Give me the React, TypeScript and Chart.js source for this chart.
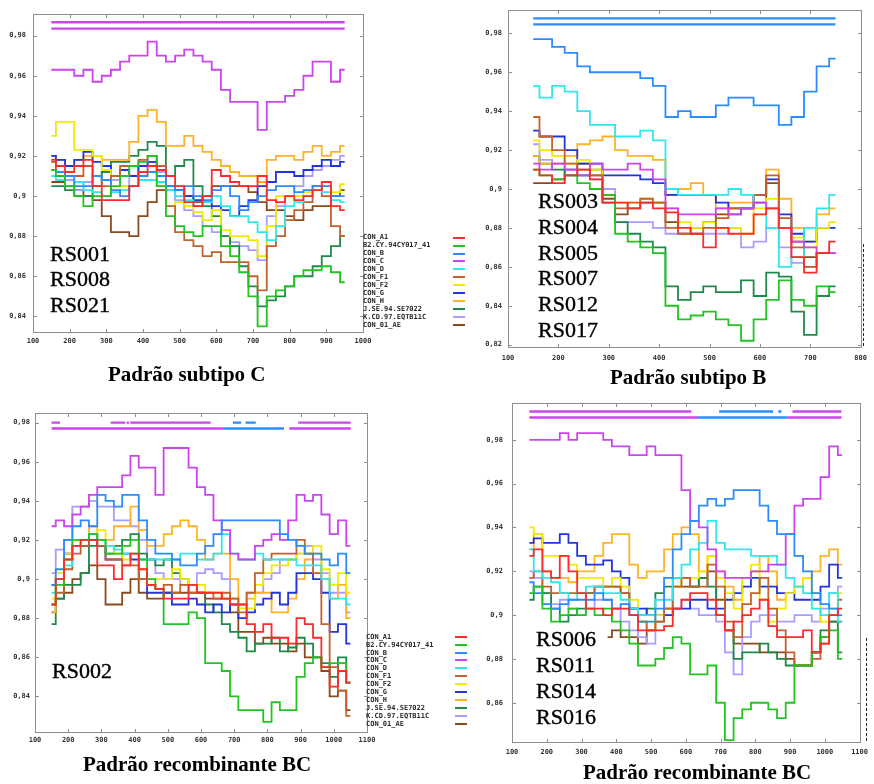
import React, { useEffect, useRef } from 'react';
import { Chart, registerables } from 'chart.js';
Chart.register(...registerables);

// ---------- series metadata ----------
const SERIES_NAMES = ['CON_A1', 'B2.CY.94CY017_41', 'CON_B', 'CON_C', 'CON_D', 'CON_F1', 'CON_F2', 'CON_G', 'CON_H', 'J.SE.94.SE7022', 'K.CD.97.EQTB11C', 'CON_01_AE'];
const SERIES_COLORS = ['#ff2a2a', '#22c422', '#2a8cff', '#cc44ee', '#2ee8ee', '#c4622c', '#f2ea00', '#2234dd', '#ffb224', '#1f8a48', '#ab9cff', '#8b4a1e'];
const MAGENTA = '#cc44ee';
const BLUE = '#2a8cff';

// ---------- x positions ----------
const X1 = [150, 175, 200, 225, 250, 275, 300, 325, 350, 375, 400, 425, 450, 475, 500, 525, 550, 575, 600, 625, 650, 675, 700, 725, 750, 775, 800, 825, 850, 875, 900, 925, 950];
const X2 = [150, 175, 200, 225, 250, 275, 300, 325, 350, 375, 400, 425, 450, 475, 500, 525, 550, 575, 600, 625, 650, 675, 700, 725, 750];
const X3 = [150, 175, 200, 225, 250, 275, 300, 325, 350, 375, 400, 425, 450, 475, 500, 525, 550, 575, 600, 625, 650, 675, 700, 725, 750, 775, 800, 825, 850, 875, 900, 925, 950, 975, 1000, 1025, 1050];
const X4 = X3;

// ---------- tick values ----------
const XT1 = [100, 200, 300, 400, 500, 600, 700, 800, 900, 1000];
const XT2 = [100, 200, 300, 400, 500, 600, 700, 800];
const XT3 = [100, 200, 300, 400, 500, 600, 700, 800, 900, 1000, 1100];
const XT4 = XT3;
const YT1 = [0.84, 0.86, 0.88, 0.9, 0.92, 0.94, 0.96, 0.98];
const YT2 = [0.82, 0.84, 0.86, 0.88, 0.9, 0.92, 0.94, 0.96, 0.98];
const YT3 = [0.84, 0.86, 0.88, 0.9, 0.92, 0.94, 0.96, 0.98];
const YT4 = [0.86, 0.88, 0.9, 0.92, 0.94, 0.96, 0.98];

// ---------- Panel 1: Padrão subtipo C ----------
const p1_A1 = [.918, .915, .912, .915, .918, .905, .898, .898, .898, .905, .912, .915, .913, .910, .905, .897, .895, .900, .913, .910, .907, .905, .905, .910, .898, .897, .900, .898, .900, .903, .907, .895, .893];
const p1_B2CY = [.913, .910, .905, .900, .895, .900, .900, .905, .910, .915, .917, .920, .905, .890, .885, .882, .880, .885, .885, .875, .870, .862, .850, .835, .850, .853, .855, .860, .863, .863, .865, .862, .857];
const p1_B = [.913, .912, .910, .905, .905, .910, .908, .903, .900, .905, .910, .912, .910, .905, .903, .905, .900, .898, .903, .905, .900, .893, .897, .900, .903, .905, .905, .902, .903, .905, .905, .900, .900];
const p1_C = [.963, .963, .963, .960, .963, .957, .960, .963, .967, .970, .970, .977, .970, .967, .970, .973, .970, .967, .963, .953, .947, .947, .947, .933, .947, .947, .950, .953, .960, .967, .967, .957, .963];
const p1_D = [.910, .908, .905, .907, .903, .902, .900, .902, .903, .905, .908, .908, .907, .903, .900, .898, .895, .897, .900, .895, .890, .890, .887, .882, .878, .885, .895, .897, .900, .903, .902, .898, .897];
const p1_F1 = [.917, .912, .910, .910, .915, .910, .905, .910, .915, .915, .918, .920, .915, .895, .882, .878, .875, .870, .872, .867, .867, .867, .860, .853, .875, .880, .888, .893, .897, .905, .900, .885, .880];
const p1_F2 = [.930, .937, .937, .923, .923, .920, .913, .910, .905, .905, .910, .912, .905, .895, .897, .895, .892, .888, .893, .883, .880, .880, .878, .870, .885, .900, .900, .900, .902, .903, .905, .902, .906];
const p1_G = [.920, .918, .915, .918, .922, .917, .915, .910, .913, .910, .915, .917, .915, .905, .903, .900, .898, .897, .895, .893, .890, .895, .898, .905, .907, .912, .912, .910, .913, .915, .918, .915, .917];
const p1_H = [.920, .918, .915, .918, .920, .920, .918, .918, .918, .927, .940, .943, .937, .925, .925, .930, .925, .922, .918, .915, .912, .910, .910, .907, .918, .920, .920, .918, .922, .925, .920, .922, .925];
const p1_J = [.905, .905, .903, .900, .900, .905, .912, .917, .917, .920, .923, .927, .925, .910, .915, .918, .905, .895, .890, .880, .875, .865, .855, .845, .848, .850, .855, .860, .860, .865, .870, .875, .880];
const p1_K = [.917, .912, .908, .903, .907, .910, .912, .908, .905, .910, .915, .917, .912, .903, .898, .893, .890, .885, .882, .880, .877, .875, .873, .868, .890, .895, .900, .905, .910, .913, .915, .918, .920];
const p1_AE = [.907, .907, .905, .903, .900, .898, .890, .882, .882, .880, .890, .897, .903, .903, .903, .900, .897, .900, .905, .905, .905, .905, .902, .897, .893, .893, .890, .888, .893, .895, .895, .900, .903];
const p1_barLevels = [0.9867, 0.9835];

// ---------- Panel 2: Padrão subtipo B ----------
const p2_A1 = [.910, .907, .903, .907, .910, .905, .893, .893, .890, .893, .890, .888, .880, .877, .870, .880, .877, .877, .887, .890, .880, .865, .857, .867, .873];
const p2_B2CY = [.910, .907, .905, .907, .903, .900, .897, .877, .873, .870, .867, .840, .833, .835, .837, .833, .830, .822, .833, .843, .853, .843, .840, .850, .847];
const p2_B = [.977, .977, .973, .970, .963, .960, .960, .960, .960, .957, .953, .937, .940, .937, .937, .943, .947, .947, .943, .943, .933, .937, .950, .963, .967];
const p2_C = [.913, .910, .913, .910, .907, .913, .910, .910, .913, .910, .905, .890, .887, .887, .887, .890, .887, .890, .893, .890, .880, .873, .870, .867, .867];
const p2_D = [.953, .947, .953, .950, .940, .933, .933, .927, .927, .930, .925, .900, .897, .897, .897, .897, .900, .897, .893, .880, .860, .865, .880, .890, .897];
const p2_F1 = [.937, .927, .920, .913, .910, .907, .897, .890, .893, .895, .893, .880, .877, .877, .880, .885, .890, .890, .897, .907, .885, .870, .860, .867, .867];
const p2_F2 = [.925, .920, .917, .913, .915, .910, .897, .893, .893, .895, .893, .890, .883, .880, .883, .880, .880, .877, .890, .895, .880, .875, .870, .880, .883];
const p2_G = [.930, .927, .927, .920, .913, .913, .907, .907, .907, .905, .903, .897, .897, .897, .897, .893, .890, .890, .897, .905, .887, .877, .873, .880, .880];
const p2_H = [.917, .913, .913, .917, .923, .925, .927, .920, .917, .917, .915, .897, .900, .903, .897, .890, .893, .893, .897, .910, .895, .880, .873, .887, .890];
const p2_J = [.917, .913, .910, .907, .907, .910, .893, .883, .877, .873, .870, .850, .843, .847, .850, .847, .847, .853, .845, .857, .855, .837, .825, .845, .850];
const p2_K = [.923, .915, .913, .910, .907, .905, .900, .883, .883, .883, .880, .877, .877, .877, .877, .877, .880, .870, .873, .880, .870, .862, .860, .867, .867];
const p2_AE = [.903, .903, .905, .910, .913, .907, .895, .887, .890, .893, .893, .883, .877, .880, .883, .887, .887, .890, .893, .903, .880, .873, .865, .867, .867];
const p2_barLevels = [0.9877, 0.9846];

// ---------- Panel 3: Padrão recombinante BC (RS002) ----------
const p3_A1 = [.887, .900, .910, .917, .920, .920, .907, .907, .900, .907, .913, .905, .897, .895, .890, .890, .890, .897, .893, .893, .893, .890, .887, .887, .877, .873, .877, .870, .870, .867, .880, .877, .870, .855, .845, .853, .847];
const p3_B2CY = [.887, .897, .910, .920, .920, .923, .920, .913, .913, .917, .920, .910, .900, .895, .877, .877, .877, .883, .880, .857, .857, .853, .840, .833, .833, .833, .827, .837, .833, .833, .850, .857, .860, .855, .857, .857, .847];
const p3_B = [.897, .905, .920, .927, .930, .927, .943, .940, .937, .943, .943, .930, .920, .913, .913, .910, .907, .907, .913, .917, .923, .930, .930, .930, .930, .930, .930, .930, .923, .920, .917, .913, .913, .910, .907, .913, .903];
const p3_C = [.927, .930, .927, .933, .937, .943, .947, .947, .947, .953, .963, .957, .957, .943, .967, .967, .967, .957, .947, .943, .930, .925, .913, .910, .910, .917, .920, .923, .920, .930, .943, .940, .943, .933, .923, .930, .917];
const p3_D = [.893, .900, .907, .917, .920, .923, .920, .917, .915, .913, .913, .910, .910, .910, .910, .910, .913, .913, .910, .910, .913, .923, .913, .910, .910, .913, .910, .910, .910, .910, .907, .907, .907, .900, .890, .890, .887];
const p3_F1 = [.887, .893, .905, .913, .917, .923, .917, .910, .910, .907, .907, .900, .897, .895, .897, .893, .897, .893, .893, .893, .890, .893, .890, .883, .893, .903, .910, .913, .913, .913, .920, .913, .903, .877, .855, .843, .830];
const p3_F2 = [.890, .903, .913, .920, .920, .923, .925, .917, .913, .910, .913, .905, .900, .900, .900, .905, .900, .897, .897, .893, .893, .890, .890, .885, .885, .897, .903, .907, .907, .910, .913, .913, .917, .905, .897, .903, .893];
const p3_G = [.897, .900, .913, .917, .917, .920, .917, .910, .910, .913, .910, .900, .893, .893, .893, .887, .887, .890, .887, .883, .887, .883, .887, .880, .883, .887, .890, .893, .887, .893, .903, .903, .900, .893, .873, .877, .867];
const p3_H = [.883, .900, .913, .920, .917, .927, .920, .920, .927, .927, .937, .925, .917, .917, .923, .927, .930, .927, .920, .910, .913, .913, .900, .887, .890, .893, .893, .883, .883, .890, .900, .910, .913, .900, .890, .897, .880];
const p3_J = [.877, .890, .897, .897, .903, .917, .917, .913, .917, .920, .923, .913, .910, .907, .910, .903, .900, .897, .893, .887, .883, .877, .873, .870, .863, .867, .867, .870, .863, .865, .870, .867, .860, .857, .850, .860, .847];
const p3_K = [.903, .915, .920, .937, .937, .940, .937, .937, .930, .930, .927, .920, .910, .903, .900, .900, .897, .897, .903, .905, .903, .900, .890, .887, .893, .893, .900, .903, .910, .910, .913, .917, .910, .903, .893, .893, .883];
const p3_AE = [.883, .890, .893, .900, .903, .907, .900, .887, .887, .893, .900, .893, .890, .890, .893, .893, .893, .893, .893, .890, .890, .890, .883, .873, .873, .867, .870, .867, .867, .863, .867, .860, .860, .853, .840, .843, .833];
const p3_barLevels = [0.980, 0.977];
const p3_row1Magenta = [[150, 175], [328, 372], [376, 383], [387, 629], [893, 1051]];
const p3_row1Blue = [[696, 721], [734, 765]];
const p3_row2Magenta = [[150, 669], [866, 1051]];
const p3_row2Blue = [[669, 850]];

// ---------- Panel 4: Padrão recombinante BC (RS006...) ----------
const p4_A1 = [.927, .930, .920, .917, .927, .920, .910, .903, .903, .900, .903, .903, .900, .893, .893, .893, .895, .903, .907, .910, .910, .907, .900, .893, .897, .900, .903, .907, .895, .890, .890, .890, .893, .883, .887, .900, .903];
const p4_B2CY = [.910, .913, .903, .897, .900, .903, .900, .903, .900, .903, .897, .893, .887, .877, .877, .880, .885, .890, .887, .873, .873, .877, .860, .843, .853, .857, .860, .860, .857, .853, .860, .877, .877, .883, .890, .893, .880];
const p4_B = [.915, .910, .905, .903, .905, .907, .907, .907, .910, .907, .903, .905, .900, .897, .897, .903, .917, .930, .937, .943, .950, .953, .950, .953, .957, .957, .957, .950, .943, .937, .937, .927, .920, .910, .905, .903, .900];
const p4_C = [.980, .980, .980, .980, .983, .980, .983, .983, .983, .980, .977, .977, .973, .973, .977, .973, .973, .973, .957, .943, .940, .930, .920, .917, .917, .917, .920, .920, .923, .923, .937, .950, .953, .953, .963, .977, .973];
const p4_D = [.930, .920, .917, .915, .910, .907, .910, .913, .913, .910, .910, .907, .903, .900, .900, .907, .907, .917, .923, .930, .933, .943, .933, .930, .930, .930, .927, .927, .927, .923, .917, .913, .910, .903, .900, .910, .897];
const p4_F1 = [.917, .920, .913, .910, .910, .910, .910, .910, .913, .913, .913, .910, .903, .897, .893, .897, .903, .913, .917, .913, .913, .923, .913, .897, .890, .905, .910, .917, .903, .893, .883, .877, .877, .880, .887, .900, .907];
const p4_F2 = [.940, .937, .927, .927, .927, .923, .917, .917, .917, .913, .917, .913, .907, .897, .893, .900, .903, .913, .917, .917, .920, .927, .917, .910, .903, .917, .923, .907, .897, .903, .910, .913, .917, .910, .897, .903, .910];
const p4_G = [.933, .935, .933, .933, .937, .933, .927, .923, .923, .925, .920, .917, .903, .903, .900, .900, .900, .903, .903, .907, .907, .903, .903, .907, .910, .913, .917, .913, .913, .910, .910, .907, .907, .907, .913, .923, .917];
const p4_H = [.930, .937, .920, .917, .917, .915, .920, .920, .927, .933, .937, .937, .923, .917, .920, .920, .930, .937, .940, .937, .920, .927, .920, .913, .907, .917, .920, .927, .920, .907, .910, .913, .917, .920, .927, .930, .923];
const p4_J = [.907, .913, .910, .903, .897, .900, .903, .910, .913, .913, .913, .910, .903, .900, .903, .910, .913, .917, .917, .913, .917, .913, .900, .893, .880, .883, .883, .887, .883, .880, .877, .877, .877, .883, .893, .897, .883];
const p4_K = [.920, .917, .910, .905, .907, .903, .900, .903, .907, .907, .903, .897, .893, .890, .887, .900, .900, .903, .907, .903, .900, .900, .897, .883, .873, .890, .897, .900, .900, .897, .897, .900, .900, .897, .903, .910, .913];
const p4_AE = [null, null, null, null, null, null, null, null, null, .890, .893, .890, .890, .887, .893, .897, .903, .913, .913, .913, .917, .920, .907, .893, .887, .887, .887, .883, .883, .883, .880, .877, .877, .883, .890, .897, .897];
const p4_barLevels = [0.9929, 0.9902];
const p4_row1Magenta = [[150, 616], [907, 1048]];
const p4_row1Blue = [[696, 851], [866, 875]];
const p4_row2Magenta = [[150, 635], [893, 1048]];
const p4_row2Blue = [[635, 893]];

// ---------- helpers ----------
const fmt = (v: number) => String(Math.round(v * 100) / 100).replace('.', ',');

function barData(segs: number[][], y: number) {
  const out: any[] = [];
  segs.forEach(([a, b]) => {
    out.push({ x: a, y }, { x: b, y }, { x: b, y: null });
  });
  return out;
}

const framePlugin = {
  id: 'gnuframe',
  afterDatasetsDraw(chart: any) {
    const { ctx, chartArea: a, scales } = chart;
    ctx.save();
    ctx.strokeStyle = '#8e8e8e';
    ctx.lineWidth = 1;
    const L = Math.round(a.left) + 0.5, R = Math.round(a.right) + 0.5;
    const T = Math.round(a.top) + 0.5, B = Math.round(a.bottom) + 0.5;
    ctx.strokeRect(L, T, R - L, B - T);
    ctx.beginPath();
    const tl = 3.5;
    scales.x.ticks.forEach((t: any) => {
      const px = Math.round(scales.x.getPixelForValue(t.value)) + 0.5;
      ctx.moveTo(px, B); ctx.lineTo(px, B - tl);
      ctx.moveTo(px, T); ctx.lineTo(px, T + tl);
    });
    scales.y.ticks.forEach((t: any) => {
      const py = Math.round(scales.y.getPixelForValue(t.value)) + 0.5;
      ctx.moveTo(L, py); ctx.lineTo(L + tl, py);
      ctx.moveTo(R, py); ctx.lineTo(R - tl, py);
    });
    ctx.stroke();
    ctx.restore();
  },
};

type Bar = { segs: number[][]; y: number; color: string };
type PanelCfg = {
  left: number; top: number; w: number; h: number;
  pad: { left: number; top: number; right: number; bottom: number };
  yW: number; xH: number; xPad: number; yPad: number;
  xMin: number; xMax: number; yMin: number; yMax: number;
  xTicks: number[]; yTicks: number[];
  xs: number[]; series: (number | null)[][]; bars: Bar[];
};

const PANELS: PanelCfg[] = [
  {
    left: 0, top: 0, w: 440, h: 390,
    pad: { left: 0, top: 14, right: 77, bottom: 38 }, yW: 33, xH: 20, xPad: 5, yPad: 7,
    xMin: 100, xMax: 1000, yMin: 0.8322, yMax: 0.9908, xTicks: XT1, yTicks: YT1, xs: X1,
    series: [p1_A1, p1_B2CY, p1_B, p1_C, p1_D, p1_F1, p1_F2, p1_G, p1_H, p1_J, p1_K, p1_AE],
    bars: [
      { segs: [[150, 950]], y: p1_barLevels[0], color: MAGENTA },
      { segs: [[150, 950]], y: p1_barLevels[1], color: MAGENTA },
    ],
  },
  {
    left: 440, top: 0, w: 434, h: 390,
    pad: { left: 0, top: 8, right: 11, bottom: 23 }, yW: 68, xH: 20, xPad: 7, yPad: 6,
    xMin: 100, xMax: 800, yMin: 0.8188, yMax: 0.9919, xTicks: XT2, yTicks: YT2, xs: X2,
    series: [p2_A1, p2_B2CY, p2_B, p2_C, p2_D, p2_F1, p2_F2, p2_G, p2_H, p2_J, p2_K, p2_AE],
    bars: [
      { segs: [[150, 750]], y: p2_barLevels[0], color: BLUE },
      { segs: [[150, 750]], y: p2_barLevels[1], color: BLUE },
    ],
  },
  {
    left: 0, top: 390, w: 440, h: 394,
    pad: { left: 0, top: 23, right: 73, bottom: 32 }, yW: 35, xH: 20, xPad: 4, yPad: 5,
    xMin: 100, xMax: 1100, yMin: 0.8218, yMax: 0.9849, xTicks: XT3, yTicks: YT3, xs: X3,
    series: [p3_A1, p3_B2CY, p3_B, p3_C, p3_D, p3_F1, p3_F2, p3_G, p3_H, p3_J, p3_K, p3_AE],
    bars: [
      { segs: p3_row1Magenta, y: p3_barLevels[0], color: MAGENTA },
      { segs: p3_row1Blue, y: p3_barLevels[0], color: BLUE },
      { segs: p3_row2Magenta, y: p3_barLevels[1], color: MAGENTA },
      { segs: p3_row2Blue, y: p3_barLevels[1], color: BLUE },
    ],
  },
  {
    left: 440, top: 390, w: 434, h: 394,
    pad: { left: 0, top: 12, right: 8, bottom: 22 }, yW: 72, xH: 20, xPad: 6, yPad: 9,
    xMin: 100, xMax: 1100, yMin: 0.8421, yMax: 0.9967, xTicks: XT4, yTicks: YT4, xs: X4,
    series: [p4_A1, p4_B2CY, p4_B, p4_C, p4_D, p4_F1, p4_F2, p4_G, p4_H, p4_J, p4_K, p4_AE],
    bars: [
      { segs: p4_row1Magenta, y: p4_barLevels[0], color: MAGENTA },
      { segs: p4_row1Blue, y: p4_barLevels[0], color: BLUE },
      { segs: p4_row2Magenta, y: p4_barLevels[1], color: MAGENTA },
      { segs: p4_row2Blue, y: p4_barLevels[1], color: BLUE },
    ],
  },
];

const TICK_FONT = { family: '"DejaVu Sans Mono", monospace', size: 7, weight: 'bold' as const };

function Panel({ cfg }: { cfg: PanelCfg }) {
  const ref = useRef<HTMLCanvasElement>(null);
  useEffect(() => {
    const canvas = ref.current!;
    const datasets: any[] = [];
    cfg.bars.forEach((b) => {
      datasets.push({
        data: barData(b.segs, b.y), borderColor: b.color, backgroundColor: b.color,
        borderWidth: 2.4, pointRadius: 0, spanGaps: false, fill: false,
      });
    });
    cfg.series.forEach((ys, i) => {
      datasets.push({
        label: SERIES_NAMES[i],
        data: cfg.xs.map((x, j) => ({ x, y: ys[j] })),
        borderColor: SERIES_COLORS[i], backgroundColor: SERIES_COLORS[i],
        borderWidth: 1.8, pointRadius: 0, stepped: 'middle', spanGaps: false, fill: false,
      });
    });
    const chart = new Chart(canvas, {
      type: 'line',
      data: { datasets },
      options: {
        animation: false, responsive: false, maintainAspectRatio: false, events: [],
        layout: { padding: cfg.pad },
        plugins: { legend: { display: false }, tooltip: { enabled: false } },
        scales: {
          x: {
            type: 'linear', min: cfg.xMin, max: cfg.xMax,
            grid: { display: false, drawTicks: false }, border: { display: false },
            ticks: { font: TICK_FONT, color: '#333', padding: cfg.xPad, autoSkip: false, maxRotation: 0, callback: (v: any) => String(v) },
            afterBuildTicks: (s: any) => { s.ticks = cfg.xTicks.map((v) => ({ value: v })); },
            afterFit: (s: any) => { s.height = cfg.xH; },
          },
          y: {
            type: 'linear', min: cfg.yMin, max: cfg.yMax,
            grid: { display: false, drawTicks: false }, border: { display: false },
            ticks: { font: TICK_FONT, color: '#333', padding: cfg.yPad, autoSkip: false, callback: (v: any) => fmt(Number(v)) },
            afterBuildTicks: (s: any) => { s.ticks = cfg.yTicks.map((v) => ({ value: v })); },
            afterFit: (s: any) => { s.width = cfg.yW; },
          },
        },
      } as any,
      plugins: [framePlugin],
    });
    return () => chart.destroy();
  }, [cfg]);
  return (
    <canvas
      ref={ref}
      width={cfg.w}
      height={cfg.h}
      style={{ position: 'absolute', left: cfg.left, top: cfg.top, width: cfg.w, height: cfg.h }}
    />
  );
}

// ---------- text overlays ----------
const RS_LABELS = [
  { text: 'RS001', left: 50, base: 261.7 },
  { text: 'RS008', left: 50, base: 286.7 },
  { text: 'RS021', left: 50, base: 312.8 },
  { text: 'RS003', left: 538, base: 208.3 },
  { text: 'RS004', left: 538, base: 234.5 },
  { text: 'RS005', left: 538, base: 260 },
  { text: 'RS007', left: 538, base: 285.8 },
  { text: 'RS012', left: 538, base: 311.7 },
  { text: 'RS017', left: 538, base: 337 },
  { text: 'RS002', left: 52, base: 678.3 },
  { text: 'RS006', left: 536, base: 646.7 },
  { text: 'RS011', left: 536, base: 672.7 },
  { text: 'RS014', left: 536, base: 698.3 },
  { text: 'RS016', left: 536, base: 724 },
];
const TITLES = [
  { text: 'Padrão subtipo C', left: 108, base: 381.7 },
  { text: 'Padrão subtipo B', left: 610, base: 385 },
  { text: 'Padrão recombinante BC', left: 83, base: 771.7 },
  { text: 'Padrão recombinante BC', left: 583, base: 779.3 },
];
const LEGEND_TEXT_POS = [{ left: 363, y0: 237.3 }, { left: 366, y0: 636.7 }];
const LEGEND_DASH_POS = [{ left: 453, y0: 237.7 }, { left: 455, y0: 636.7 }];
const LEGEND_STEP = 7.93;

export default function App() {
  return (
    <div style={{ position: 'absolute', left: 0, top: 0, width: 874, height: 784, background: '#fff', overflow: 'hidden' }}>
      {PANELS.map((p, i) => <Panel key={i} cfg={p} />)}
      {/* dashed right edges */}
      <div style={{ position: 'absolute', left: 863, top: 244, width: 0, height: 102, borderLeft: '1px dashed #222' }} />
      <div style={{ position: 'absolute', left: 866, top: 638, width: 0, height: 103, borderLeft: '1px dashed #222' }} />
      {LEGEND_TEXT_POS.map((lp, k) =>
        SERIES_NAMES.map((n, i) => (
          <div key={'lt' + k + i} style={{
            position: 'absolute', left: lp.left, top: lp.y0 + i * LEGEND_STEP - 4, height: 8, lineHeight: '8px',
            font: 'bold 7px "DejaVu Sans Mono", monospace', color: '#2a2a2a', whiteSpace: 'nowrap',
          }}>{n}</div>
        ))
      )}
      {LEGEND_DASH_POS.map((lp, k) =>
        SERIES_COLORS.map((c, i) => (
          <div key={'ld' + k + i} style={{
            position: 'absolute', left: lp.left, top: lp.y0 + i * LEGEND_STEP - 1, width: 12, height: 2, background: c,
          }} />
        ))
      )}
      {RS_LABELS.map((l, i) => (
        <div key={'rs' + i} style={{
          position: 'absolute', left: l.left, top: l.base - 0.8375 * 22, fontFamily: '"Liberation Serif", serif',
          fontSize: 22, lineHeight: '22px', color: '#000', whiteSpace: 'nowrap', WebkitTextStroke: '0.4px #000',
        }}>{l.text}</div>
      ))}
      {TITLES.map((t, i) => (
        <div key={'t' + i} style={{
          position: 'absolute', left: t.left, top: t.base - 0.8375 * 21, fontFamily: '"Liberation Serif", serif',
          fontWeight: 'bold', fontSize: 21, lineHeight: '21px', color: '#000', whiteSpace: 'nowrap',
        }}>{t.text}</div>
      ))}
    </div>
  );
}
